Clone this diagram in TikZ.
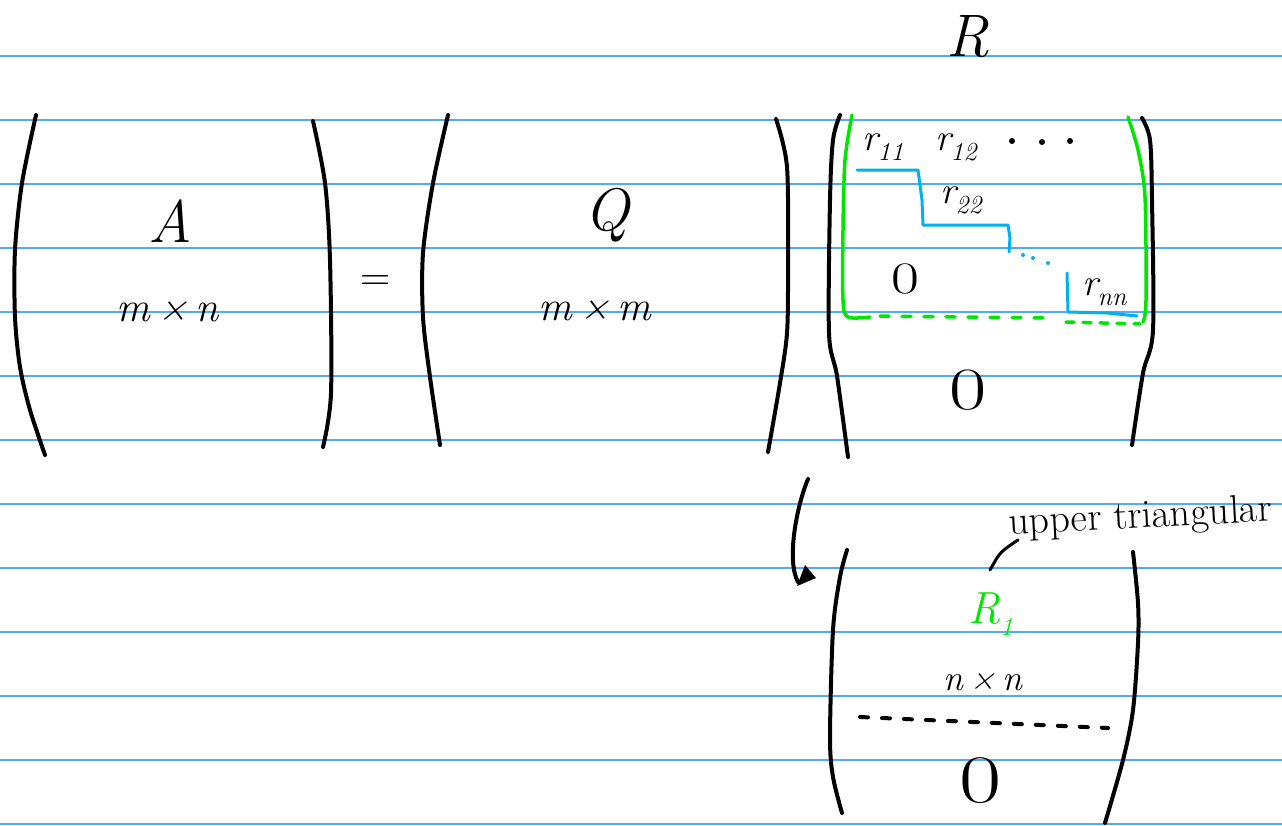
\documentclass[tikz,border=0pt]{standalone}
\usepackage{fontspec}
\usetikzlibrary{arrows.meta}
\definecolor{ruleblue}{RGB}{80,170,250}
\definecolor{hlgreen}{RGB}{0,230,0}
\definecolor{stairblue}{RGB}{0,176,240}
\newcommand{\subs}[2]{{\itshape #1}\raisebox{-0.28em}{\fontsize{26}{26}\selectfont\itshape #2}}
\newcommand{\wzero}{\scalebox{1.35}[1]{0}}
\begin{document}
\begin{tikzpicture}[x=1pt,y=-1pt,
  ruling/.style={ruleblue,line width=1.6pt},
  pen/.style={black,line width=4pt,line cap=round,line join=round},
  gpen/.style={hlgreen,line width=3.5pt,line cap=round,line join=round},
  bpen/.style={stairblue,line width=3pt,line cap=round,line join=round},
  lbl/.style={inner sep=0pt,outer sep=0pt},
  big/.style={lbl,font=\fontsize{60}{60}\selectfont\itshape},
  mid/.style={lbl,font=\fontsize{42}{42}\selectfont\itshape},
  small/.style={lbl,font=\fontsize{38}{38}\selectfont},
]
\fill[white] (0,0) rectangle (1282,825);
\useasboundingbox (0,0) rectangle (1282,825);
\foreach \k in {0,...,12} \draw[ruling] (0,56+64*\k) -- (1282,56+64*\k);

% matrix A
\draw[pen] plot[smooth] coordinates {(36,115) (22,183) (15,250) (15,317) (20,367) (30,410) (45,455)};
\draw[pen] plot[smooth] coordinates {(313,121) (325,183) (330,260) (331,393) (323,447)};
\node[big,anchor=base] (A) at (170,242) {A};
\node[mid,anchor=base] (Amn) at (168,321) {m\,×\,n};

\node[mid,anchor=base,font=\fontsize{42}{42}\selectfont] (eq) at (376,290) {=};

% matrix Q
\draw[pen] plot[smooth] coordinates {(448,115) (433,183) (423,253) (423,317) (430,377) (440,445)};
\draw[pen] plot[smooth] coordinates {(776,119) (787,167) (788,270) (787,333) (780,383) (768,452)};
\node[big,anchor=base] (Q) at (607,230) {Q};
\node[mid,anchor=base] (Qmm) at (595,320) {m\,×\,m};

% matrix R
\node[big,anchor=base] (R) at (968,56) {R};
\draw[pen] plot[smooth] coordinates {(840,115) (833,140) (830,200) (829,333) (837,376) (848,457)};
\draw[pen] plot[smooth] coordinates {(1142,118) (1150,140) (1152,200) (1153,330) (1143,373) (1132,445)};

% green block
\draw[gpen] plot[smooth] coordinates {(852,115) (845,160) (843,230) (843,300) (848,317) (870,317)};
\draw[gpen] plot[smooth] coordinates {(1128,117) (1138,150) (1145,197) (1146,300) (1143,322)};
\draw[gpen,dash pattern=on 9pt off 13pt] (880,316) -- (1045,318);
\draw[gpen,dash pattern=on 8pt off 9pt] (1066,322) -- (1140,324);

% blue staircase
\draw[bpen] (857,170) -- (918,170) -- (922,200) -- (923,225) -- (1008,225) -- (1010,238) -- (1009,252);
\fill[stairblue] (1023,255) circle (2pt) (1033,258) circle (2pt) (1048,263) circle (2pt);
\draw[bpen] (1067,273) -- (1068,312) -- (1107,313) -- (1137,316);

\node[small,anchor=base west] (r11) at (862,150) {\subs{r}{11}};
\node[small,anchor=base west] (r12) at (935,150) {\subs{r}{12}};
\fill (1012,141) circle (3pt) (1042,142) circle (3pt) (1070,141) circle (3pt);
\node[small,anchor=base west] (r22) at (940,203) {\subs{r}{22}};
\node[lbl,font=\fontsize{45}{45}\selectfont,anchor=base] (z1) at (905,293) {\wzero};
\node[small,anchor=base west] (rnn) at (1082,295) {\subs{r}{nn}};
\node[lbl,font=\fontsize{60}{60}\selectfont,anchor=base] (z2) at (968,409) {\wzero};

% arrow down
\coordinate (arrS) at (808,479);
\coordinate (arrE) at (798,582);
\draw[pen] (arrS) .. controls (797,505) and (786,560) .. (arrE);
\fill (797,586) -- (805,565) -- (816,578) -- cycle;

% lower matrix
\draw[pen] plot[smooth] coordinates {(847,550) (840,577) (833,630) (830,737) (833,777) (842,813)};
\draw[pen] plot[smooth] coordinates {(1133,552) (1138,603) (1138,643) (1133,710) (1123,760) (1105,823)};
\node[lbl,font=\fontsize{45}{45}\selectfont,anchor=base west,text=hlgreen] (R1) at (968,623) {\subs{R}{1}};
\node[lbl,font=\fontsize{36}{36}\selectfont\itshape,anchor=base] (nn) at (983,690) {n\,×\,n};
\draw[pen,dash pattern=on 8pt off 14pt] (860,717) -- (1108,728);
\node[lbl,font=\fontsize{68}{68}\selectfont,anchor=base] (z3) at (981,802) {\wzero};

% annotation
\node[lbl,font=\fontsize{40}{40}\selectfont,anchor=base,rotate=3] (ut) at (1141,528) {upper triangular};
\coordinate (ptrA) at (990,570);
\coordinate (ptrB) at (1018,540);
\draw[pen,line width=3pt] (ptrA) .. controls (1000,552) .. (ptrB);
\end{tikzpicture}
\end{document}
